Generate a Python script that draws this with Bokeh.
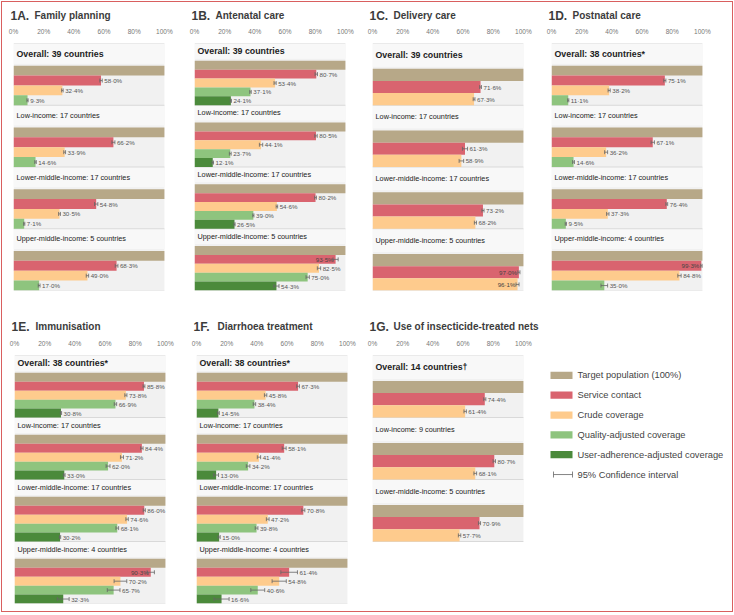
from bokeh.plotting import figure
from bokeh.models import (ColumnDataSource, Range1d, FixedTicker, PrintfTickFormatter,
                          Whisker, TeeHead)
from bokeh.layouts import row, column
from bokeh.embed import file_html
from bokeh.resources import INLINE
from bokeh.core.properties import value

# ---------------- data ----------------
MEASURES = ["Target population (100%)", "Service contact", "Crude coverage",
            "Quality-adjusted coverage", "User-adherence-adjusted coverage"]
COLORS = ["#b7a888", "#d9646f", "#fecb8d", "#8ec47e", "#4b8a3b"]
TICKS = [0, 20, 40, 60, 80, 100]

TOP_CODES = ["1A.", "1B.", "1C.", "1D."]
TOP_NAMES = ["Family planning", "Antenatal care", "Delivery care", "Postnatal care"]
BOT_CODES = ["1E.", "1F.", "1G."]
BOT_NAMES = ["Immunisation", "Diarrhoea treatment", "Use of insecticide-treated nets"]

GROUPS_39 = ["Overall: 39 countries", "Low-income: 17 countries",
             "Lower-middle-income: 17 countries", "Upper-middle-income: 5 countries"]
GROUPS_38 = ["Overall: 38 countries*", "Low-income: 17 countries",
             "Lower-middle-income: 17 countries", "Upper-middle-income: 4 countries"]
GROUPS_14 = ["Overall: 14 countries\u2020", "Low-income: 9 countries",
             "Lower-middle-income: 5 countries"]

# 1A Family planning
A_SERVICE = [58.0, 66.2, 54.8, 68.3]
A_CRUDE = [32.4, 33.9, 30.5, 49.0]
A_QUALITY = [9.3, 14.6, 7.1, 17.0]
A_SERVICE_CI = [0.8, 1.0, 1.1, 0.9]
A_CRUDE_CI = [0.5, 0.6, 0.6, 0.8]
A_QUALITY_CI = [0.4, 0.5, 0.4, 0.6]

# 1B Antenatal care
B_SERVICE = [80.7, 80.5, 80.2, 93.5]
B_CRUDE = [53.4, 44.1, 54.6, 82.5]
B_QUALITY = [37.1, 23.7, 39.0, 75.0]
B_USER = [24.1, 12.1, 26.5, 54.3]
B_SERVICE_CI = [0.8, 0.8, 0.6, 1.7]
B_CRUDE_CI = [0.7, 1.1, 0.5, 1.1]
B_QUALITY_CI = [0.5, 0.6, 0.4, 1.1]
B_USER_CI = [0.4, 0.5, 0.4, 1.7]

# 1C Delivery care
C_SERVICE = [71.6, 61.3, 73.2, 97.0]
C_CRUDE = [67.3, 58.9, 68.2, 96.1]
C_SERVICE_CI = [0.6, 1.7, 0.7, 0.7]
C_CRUDE_CI = [0.6, 1.5, 0.7, 1.0]

# 1D Postnatal care
D_SERVICE = [75.1, 67.1, 76.4, 99.3]
D_CRUDE = [38.2, 36.2, 37.3, 84.8]
D_QUALITY = [11.1, 14.6, 9.5, 35.0]
D_SERVICE_CI = [0.7, 1.1, 0.6, 0.5]
D_CRUDE_CI = [0.7, 1.0, 0.8, 1.1]
D_QUALITY_CI = [0.4, 0.6, 0.4, 2.2]

# 1E Immunisation
E_SERVICE = [85.8, 84.4, 86.0, 90.3]
E_CRUDE = [73.8, 71.2, 74.6, 70.2]
E_QUALITY = [66.9, 62.0, 68.1, 65.7]
E_USER = [30.8, 33.0, 30.2, 32.3]
E_SERVICE_CI = [0.6, 0.8, 0.7, 2.4]
E_CRUDE_CI = [0.7, 1.0, 0.8, 4.2]
E_QUALITY_CI = [0.8, 1.3, 0.9, 4.2]
E_USER_CI = [0.4, 0.5, 0.4, 3.9]

# 1F Diarrhoea treatment
F_SERVICE = [67.3, 58.1, 70.8, 61.4]
F_CRUDE = [45.8, 41.4, 47.2, 54.8]
F_QUALITY = [38.4, 34.2, 39.8, 40.6]
F_USER = [14.5, 13.0, 15.0, 16.6]
F_SERVICE_CI = [0.9, 1.3, 1.0, 5.5]
F_CRUDE_CI = [0.8, 1.1, 0.9, 4.7]
F_QUALITY_CI = [0.8, 1.2, 0.9, 4.6]
F_USER_CI = [0.6, 1.6, 0.7, 5.0]

# 1G Use of insecticide-treated nets
G_SERVICE = [74.4, 80.7, 70.9]
G_CRUDE = [61.4, 68.1, 57.7]
G_SERVICE_CI = [0.7, 0.8, 0.7]
G_CRUDE_CI = [0.8, 0.9, 0.8]

# ---------------- layout constants ----------------
FONT = "Liberation Sans"
PITCH = 62.5
FRAME_H = 250
FRAME_W = 166          # 0..110 %, so 0..100 % spans ~151 px
BAR_H = {3: 12.3, 4: 10.0, 5: 9.0}
INNER_W = 730

TOP_W = [185, 179, 179, 187]
TOP_LEFT = [11, 7, 6, 6]
BOT_W = [185, 179, 179]
BOT_LEFT = [12, 9, 6]
LEG_W = INNER_W - sum(BOT_W)

TITLE_H = 22
TOP_PANEL_H = 290      # 16 above + 250 frame + 24 below
BOT_PANEL_H = 275      # 17 above + 250 frame + 8 below


def fmt(v):
    return ("%.1f" % v).replace(".", "\u00b7") + "%"


def build_panel(groups, series, cis, fig_w, left, fig_h, b_top, b_bottom):
    ng = len(groups)
    nb = 1 + len(series)
    bh = BAR_H[nb]
    block = nb * bh
    p = figure(width=fig_w, height=fig_h, x_range=Range1d(0, 110),
               y_range=Range1d(FRAME_H, 0), x_axis_location="above",
               y_axis_location=None, title=None, output_backend="svg",
               toolbar_location=None, min_border_left=left,
               min_border_right=fig_w - left - FRAME_W, min_border_top=b_top,
               min_border_bottom=b_bottom)
    p.outline_line_color = None
    p.grid.visible = False
    p.background_fill_color = "white"
    p.border_fill_color = "white"

    ax = p.xaxis[0]
    ax.ticker = FixedTicker(ticks=TICKS)
    ax.formatter = PrintfTickFormatter(format="%d%%")
    ax.axis_line_color = None
    ax.major_tick_line_color = None
    ax.minor_tick_line_color = None
    ax.major_label_standoff = 3
    ax.major_label_text_font = FONT
    ax.major_label_text_font_size = "6.5px"
    ax.major_label_text_color = "#777777"

    tops = [g * PITCH for g in range(ng)]
    p.quad(left=0, right=100, top=tops, bottom=[t + PITCH for t in tops],
           fill_color="#f1f1f1", line_color=None)
    p.quad(left=0, right=100, top=tops, bottom=[t + PITCH - block - 2 for t in tops],
           fill_color="#f8f8f8", line_color=None)
    seps = [0] + [t + PITCH for t in tops]
    p.segment(x0=[0] * len(seps), x1=[100] * len(seps), y0=seps, y1=seps,
              line_color="#d9d9d9", line_width=1)

    ys, rights, cols = [], [], []
    wy, wlo, whi = [], [], []
    ox, oy, ot = [], [], []
    ix, iy, it = [], [], []
    for g in range(ng):
        start = tops[g] + PITCH - block
        ys.append(start + 0.5 * bh)
        rights.append(100)
        cols.append(COLORS[0])
        for k in range(len(series)):
            v = series[k][g]
            c = cis[k][g]
            y = start + (k + 1.5) * bh
            ys.append(y)
            rights.append(v)
            cols.append(COLORS[k + 1])
            wy.append(y)
            wlo.append(v - c)
            whi.append(v + c)
            if v >= 88:
                ix.append(v)
                iy.append(y)
                it.append(fmt(v))
            else:
                ox.append(v + c)
                oy.append(y)
                ot.append(fmt(v))

    p.hbar(y="y", left=0, right="right", height=bh, fill_color="color",
           line_color=None, source=ColumnDataSource(dict(y=ys, right=rights, color=cols)))

    wsrc = ColumnDataSource(dict(y=wy, lo=wlo, hi=whi))
    w = Whisker(source=wsrc, base="y", lower="lo", upper="hi", dimension="width",
                line_color="#666666", line_width=0.8, level="overlay",
                lower_head=TeeHead(size=4, line_color="#666666", line_width=0.8),
                upper_head=TeeHead(size=4, line_color="#666666", line_width=0.8))
    p.add_layout(w)

    p.text(x="x", y="y", text="t", source=ColumnDataSource(dict(x=ox, y=oy, t=ot)),
           text_font=value(FONT), text_font_size=value("6.2px"), text_color="#555555",
           text_align="left", text_baseline="middle", x_offset=2)
    p.text(x="x", y="y", text="t", source=ColumnDataSource(dict(x=ix, y=iy, t=it)),
           text_font=value(FONT), text_font_size=value("6.2px"), text_color="#444444",
           text_align="right", text_baseline="middle", x_offset=-2)

    hy = [t + (PITCH - block) / 2 - 1 for t in tops]
    p.text(x=[2], y=[hy[0]], text=[groups[0]], text_font=value(FONT),
           text_font_size=value("8.8px"), text_font_style="bold", text_color="#222222",
           text_baseline="middle", text_align="left")
    p.text(x=[2] * (ng - 1), y=hy[1:], text=groups[1:], text_font=value(FONT),
           text_font_size=value("7.3px"), text_color="#222222",
           text_baseline="middle", text_align="left")
    return p


def build_titles(codes, names, widths, lefts, ty):
    p = figure(width=INNER_W, height=TITLE_H, x_range=Range1d(0, INNER_W),
               y_range=Range1d(TITLE_H, 0), x_axis_location=None, y_axis_location=None,
               title=None, output_backend="svg", toolbar_location=None,
               min_border_left=0, min_border_right=0, min_border_top=0, min_border_bottom=0)
    p.outline_line_color = None
    p.grid.visible = False
    frame_x = []
    acc = 0
    for w, l in zip(widths, lefts):
        frame_x.append(acc + l)
        acc += w
    p.text(x=[fx - 3 for fx in frame_x], y=[ty] * len(codes), text=codes,
           text_font=value(FONT), text_font_size=value("12px"), text_font_style="bold",
           text_color="#3c3c3c", text_baseline="middle", text_align="left")
    p.text(x=[fx + 21 for fx in frame_x], y=[ty] * len(names), text=names,
           text_font=value(FONT), text_font_size=value("10px"), text_font_style="bold",
           text_color="#3c3c3c", text_baseline="middle", text_align="left")
    return p


tTop = build_titles(TOP_CODES, TOP_NAMES, TOP_W, TOP_LEFT, 13)
tBot = build_titles(BOT_CODES, BOT_NAMES, BOT_W, BOT_LEFT, 12)

pA = build_panel(GROUPS_39, [A_SERVICE, A_CRUDE, A_QUALITY],
                 [A_SERVICE_CI, A_CRUDE_CI, A_QUALITY_CI],
                 TOP_W[0], TOP_LEFT[0], TOP_PANEL_H, 16, 24)
pB = build_panel(GROUPS_39, [B_SERVICE, B_CRUDE, B_QUALITY, B_USER],
                 [B_SERVICE_CI, B_CRUDE_CI, B_QUALITY_CI, B_USER_CI],
                 TOP_W[1], TOP_LEFT[1], TOP_PANEL_H, 16, 24)
pC = build_panel(GROUPS_39, [C_SERVICE, C_CRUDE], [C_SERVICE_CI, C_CRUDE_CI],
                 TOP_W[2], TOP_LEFT[2], TOP_PANEL_H, 16, 24)
pD = build_panel(GROUPS_38, [D_SERVICE, D_CRUDE, D_QUALITY],
                 [D_SERVICE_CI, D_CRUDE_CI, D_QUALITY_CI],
                 TOP_W[3], TOP_LEFT[3], TOP_PANEL_H, 16, 24)
pE = build_panel(GROUPS_38, [E_SERVICE, E_CRUDE, E_QUALITY, E_USER],
                 [E_SERVICE_CI, E_CRUDE_CI, E_QUALITY_CI, E_USER_CI],
                 BOT_W[0], BOT_LEFT[0], BOT_PANEL_H, 17, 8)
pF = build_panel(GROUPS_38, [F_SERVICE, F_CRUDE, F_QUALITY, F_USER],
                 [F_SERVICE_CI, F_CRUDE_CI, F_QUALITY_CI, F_USER_CI],
                 BOT_W[1], BOT_LEFT[1], BOT_PANEL_H, 17, 8)
pG = build_panel(GROUPS_14, [G_SERVICE, G_CRUDE], [G_SERVICE_CI, G_CRUDE_CI],
                 BOT_W[2], BOT_LEFT[2], BOT_PANEL_H, 17, 8)

# ---------------- legend panel ----------------
LH = BOT_PANEL_H
pL = figure(width=LEG_W, height=LH, x_range=Range1d(0, LEG_W), y_range=Range1d(LH, 0),
            x_axis_location=None, y_axis_location=None, title=None,
            output_backend="svg", toolbar_location=None,
            min_border_left=0, min_border_right=0, min_border_top=0, min_border_bottom=0)
pL.outline_line_color = None
pL.grid.visible = False
leg_y = [22 + 22 * i for i in range(len(MEASURES))]
pL.rect(x=[16] * len(MEASURES), y=leg_y, width=22, height=8,
        fill_color=COLORS, line_color=None)
ci_y = 22 + 22 * len(MEASURES)
pL.text(x=[32] * (len(MEASURES) + 1), y=leg_y + [ci_y],
        text=MEASURES + ["95% Confidence interval"], text_font=value(FONT),
        text_font_size=value("9.3px"), text_color="#444444",
        text_baseline="middle", text_align="left")
lw = Whisker(source=ColumnDataSource(dict(y=[ci_y], lo=[8], hi=[27])), base="y",
             lower="lo", upper="hi", dimension="width", line_color="#666666",
             line_width=0.8, level="overlay",
             lower_head=TeeHead(size=6, line_color="#666666", line_width=0.8),
             upper_head=TeeHead(size=6, line_color="#666666", line_width=0.8))
pL.add_layout(lw)

layout = column(tTop, row(pA, pB, pC, pD), tBot, row(pE, pF, pG, pL),
                styles={"border": "1px solid #d95f5f", "margin": "1px 0 0 1px"})

open("out.html", "w").write(file_html(layout, INLINE))
